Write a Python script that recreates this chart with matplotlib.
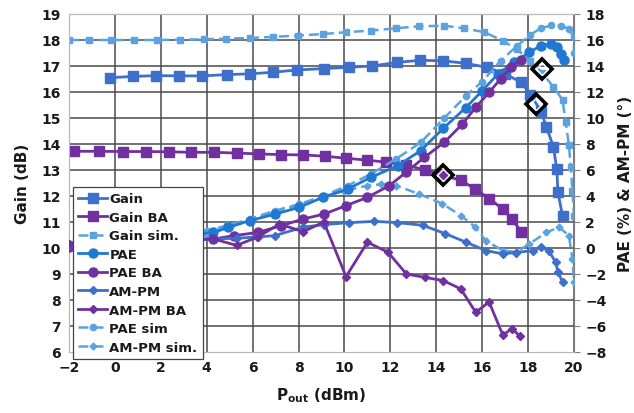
import matplotlib
matplotlib.use("Agg")
import matplotlib.pyplot as plt

# ---------------- data ----------------
gain_x = [-0.2, 0.8, 1.8, 2.8, 3.8, 4.9, 5.9, 6.9, 7.95, 9.1, 10.2, 11.2, 12.3, 13.3, 14.3,
          15.3, 16.2, 17.0, 17.7, 18.1, 18.55, 18.8, 19.1, 19.25, 19.3, 19.5]
gain_y = [16.55, 16.6, 16.63, 16.62, 16.62, 16.67, 16.7, 16.76, 16.85, 16.9, 16.95, 17.0, 17.14,
          17.22, 17.2, 17.1, 16.95, 16.7, 16.37, 15.9, 15.28, 14.65, 13.9, 13.04, 12.15, 11.23]

gainba_x = [-1.8, -0.7, 0.35, 1.35, 2.35, 3.3, 4.3, 5.3, 6.27, 7.25, 8.2, 9.16, 10.07, 11.0,
            11.8, 12.7, 13.5, 14.3, 15.07, 15.7, 16.3, 16.9, 17.3, 17.7]
gainba_y = [13.72, 13.72, 13.71, 13.71, 13.7, 13.68, 13.68, 13.65, 13.62, 13.59, 13.58, 13.53,
            13.45, 13.38, 13.3, 13.19, 13.0, 12.8, 12.6, 12.27, 11.9, 11.5, 11.1, 10.63]

gainsim_x = [-2, -1.15, -0.15, 0.85, 1.85, 2.85, 3.87, 4.86, 5.87, 6.9, 7.97, 9.06, 10.07, 11.16,
             12.25, 13.26, 14.35, 15.2, 16.1, 16.9, 17.5, 18.1, 18.6, 19.1, 19.5, 19.64, 19.78,
             19.86, 19.93, 20.0]
gainsim_y = [18.0, 18.0, 18.0, 18.0, 18.0, 18.01, 18.03, 18.05, 18.08, 18.12, 18.17, 18.23, 18.3,
             18.36, 18.45, 18.53, 18.55, 18.45, 18.3, 17.97, 17.65, 17.2, 16.75, 16.2, 15.7,
             14.83, 13.95, 13.1, 12.2, 11.24]

pae_x = [-2, 4.27, 4.93, 5.87, 6.96, 8.04, 9.06, 10.14, 11.16, 12.32, 13.33, 14.3, 15.29, 16.0,
         16.7, 17.4, 18.05, 18.55, 19.0, 19.27, 19.45, 19.57]
pae_y = [0.2, 1.2, 1.59, 2.1, 2.6, 3.13, 3.9, 4.54, 5.44, 6.33, 7.5, 9.2, 10.8, 12.1, 13.4, 14.3,
         15.05, 15.56, 15.7, 15.44, 14.95, 14.5]

paeba_x = [-2, 4.27, 5.2, 6.23, 7.25, 8.2, 9.13, 10.07, 11.0, 11.96, 12.68, 13.48, 14.35, 15.14,
           15.72, 16.3, 16.8, 17.25, 17.68]
paeba_y = [0.1, 0.69, 0.95, 1.2, 1.72, 2.23, 2.62, 3.26, 3.9, 4.8, 5.82, 6.97, 8.13, 9.54, 10.82,
           11.97, 13.0, 13.9, 14.5]

paesim_x = [-2, 4.0, 4.9, 5.87, 6.96, 8.04, 9.06, 10.14, 11.16, 12.25, 13.33, 14.35, 15.29, 16.0,
            16.8, 17.53, 18.1, 18.55, 19.0, 19.42, 19.8, 19.98, 20.0]
paesim_y = [0.2, 1.3, 1.75, 2.23, 2.87, 3.38, 4.0, 4.8, 5.7, 6.85, 8.13, 10.0, 11.7, 12.8, 14.4,
            15.56, 16.4, 16.9, 17.12, 17.1, 16.85, 16.2, 15.0]

ampm_x = [-2, 4.3, 5.3, 6.2, 6.96, 8.2, 9.1, 10.2, 11.3, 12.3, 13.4, 14.4, 15.29, 16.16, 16.9,
          17.46, 18.2, 18.55, 18.9, 19.2, 19.3, 19.5]
ampm_y = [0.2, 0.7, 0.75, 0.85, 0.95, 1.6, 1.8, 1.95, 2.05, 1.95, 1.75, 1.1, 0.45, -0.2, -0.45,
          -0.35, -0.2, 0.05, -0.2, -1.1, -1.85, -2.6]

ampmba_x = [-2, 4.3, 5.3, 6.23, 7.17, 8.2, 9.1, 10.07, 11.0, 11.9, 12.7, 13.5, 14.3, 15.07, 15.72,
            16.3, 16.9, 17.3, 17.65]
ampmba_y = [0.3, 0.7, 0.2, 0.85, 1.85, 1.25, 2.0, -2.2, 0.44, -0.33, -2.0, -2.26, -2.5, -3.15,
            -4.95, -4.15, -6.7, -6.2, -6.8]

ampmsim_x = [-2, 4.0, 5.0, 6.0, 7.0, 8.0, 9.0, 10.0, 11.0, 11.6, 12.25, 13.26, 14.27, 15.07, 15.7,
             16.16, 16.9, 17.5, 18.04, 18.8, 19.35, 19.78, 19.93, 20.0]
ampmsim_y = [0.2, 1.0, 1.6, 2.2, 2.8, 3.3, 3.9, 4.4, 4.8, 4.9, 4.8, 4.15, 3.4, 2.5, 1.6, 0.56,
             -0.2, -0.3, 0.3, 1.2, 1.6, 0.95, -0.85, -2.6]

# highlighted points (gain axis)
mark_x = [14.3, 18.35, 18.6]
mark_y = [12.8, 15.55, 16.88]

x_ticks = list(range(-2, 21, 2))
gain_ticks = list(range(6, 20))
right_ticks = list(range(-8, 19, 2))

# ---------------- style ----------------
BLUE = "#3D6FCB"
DBLUE = "#1F78D1"
PURPLE = "#7030A0"
LBLUE = "#5BA3E0"
TXT = "#1a1a1a"

fig = plt.figure(figsize=(6.34, 4.14), dpi=100)
ax = fig.add_axes([69 / 634, 1 - 353 / 414, (574 - 69) / 634, (353 - 15) / 414])
ax2 = ax.twinx()

ax.set_xlim(-2, 20)
ax.set_ylim(6, 19)
ax2.set_ylim(-8, 18)
ax.set_xticks(x_ticks)
ax.set_yticks(gain_ticks)
ax2.set_yticks(right_ticks)
ax.grid(True, color="#4a4a4a", linewidth=1.1)
ax.set_axisbelow(True)
# hide grid lines that coincide with the light left / bottom frame
ax.get_xgridlines()[0].set_visible(False)
ax.get_ygridlines()[0].set_visible(False)
for a in (ax, ax2):
    for s in a.spines.values():
        s.set_color("#b8b8b8")
        s.set_linewidth(0.8)
ax2.spines["right"].set_color("#808080")

ax.tick_params(axis="both", length=0, pad=6)
ax2.tick_params(axis="y", length=4, color="#808080", pad=4)
for lab in ax.get_xticklabels() + ax.get_yticklabels() + ax2.get_yticklabels():
    lab.set_fontsize(10)
    lab.set_fontweight("bold")
    lab.set_color(TXT)

ax.set_ylabel("Gain (dB)", fontsize=11, fontweight="bold", color=TXT, labelpad=8)
ax2.set_ylabel("PAE (%) & AM-PM (°)", fontsize=11, fontweight="bold", color=TXT, labelpad=8)
ax.set_xlabel(r"P$_{\mathbf{out}}$ (dBm)", fontsize=11, fontweight="bold", color=TXT, labelpad=8)

# gain-axis series
h_gain, = ax.plot(gain_x, gain_y, color=BLUE, lw=2, marker="s", ms=6.5, label="Gain", zorder=5)
h_gainba, = ax.plot(gainba_x, gainba_y, color=PURPLE, lw=2, marker="s", ms=6.5, label="Gain BA", zorder=5)
h_gainsim, = ax.plot(gainsim_x, gainsim_y, color=LBLUE, lw=1.8, ls=(0, (4, 2)), marker="s", ms=4.5,
                     label="Gain sim.", zorder=4)

# right-axis series
h_pae, = ax2.plot(pae_x, pae_y, color=DBLUE, lw=2, marker="o", ms=6.5, label="PAE", zorder=5)
h_paeba, = ax2.plot(paeba_x, paeba_y, color=PURPLE, lw=2, marker="o", ms=6.5, label="PAE BA", zorder=5)
h_ampm, = ax2.plot(ampm_x, ampm_y, color=BLUE, lw=2, marker="D", ms=4.2, label="AM-PM", zorder=5)
h_ampmba, = ax2.plot(ampmba_x, ampmba_y, color=PURPLE, lw=2, marker="D", ms=4.2, label="AM-PM BA", zorder=5)
h_paesim, = ax2.plot(paesim_x, paesim_y, color=LBLUE, lw=1.8, ls=(0, (4, 2)), marker="o", ms=4.5,
                     label="PAE sim", zorder=4)
h_ampmsim, = ax2.plot(ampmsim_x, ampmsim_y, color=LBLUE, lw=1.8, ls=(0, (4, 2)), marker="D", ms=3.5,
                      label="AM-PM sim.", zorder=4)

# highlighted diamonds (gain values mapped onto the right axis scale for drawing on top)
mark_r = [2 * g - 20 for g in mark_y]
ax2.plot(mark_x, mark_r, ls="none", marker="D", ms=10, mfc="none", mec="black", mew=2.6, zorder=8)
ax2.plot(mark_x, mark_r, ls="none", marker="D", ms=6.5, mfc="none", mec="white", mew=1.0, zorder=9)

handles = [h_gain, h_gainba, h_gainsim, h_pae, h_paeba, h_ampm, h_ampmba, h_paesim, h_ampmsim]
leg = ax2.legend(handles=handles, loc="upper left",
                 bbox_to_anchor=(73 / 634, 1 - 188 / 414), bbox_transform=fig.transFigure,
                 frameon=True, fancybox=False, edgecolor="#444444", framealpha=1,
                 handlelength=2.2, handletextpad=0.15, labelspacing=0.42, borderpad=0.4,
                 borderaxespad=0, prop=dict(size=9.5, weight="bold"))
leg.get_frame().set_linewidth(0.9)
leg.set_zorder(20)
for t in leg.get_texts():
    t.set_color(TXT)

fig.savefig("out.png", dpi=100)
